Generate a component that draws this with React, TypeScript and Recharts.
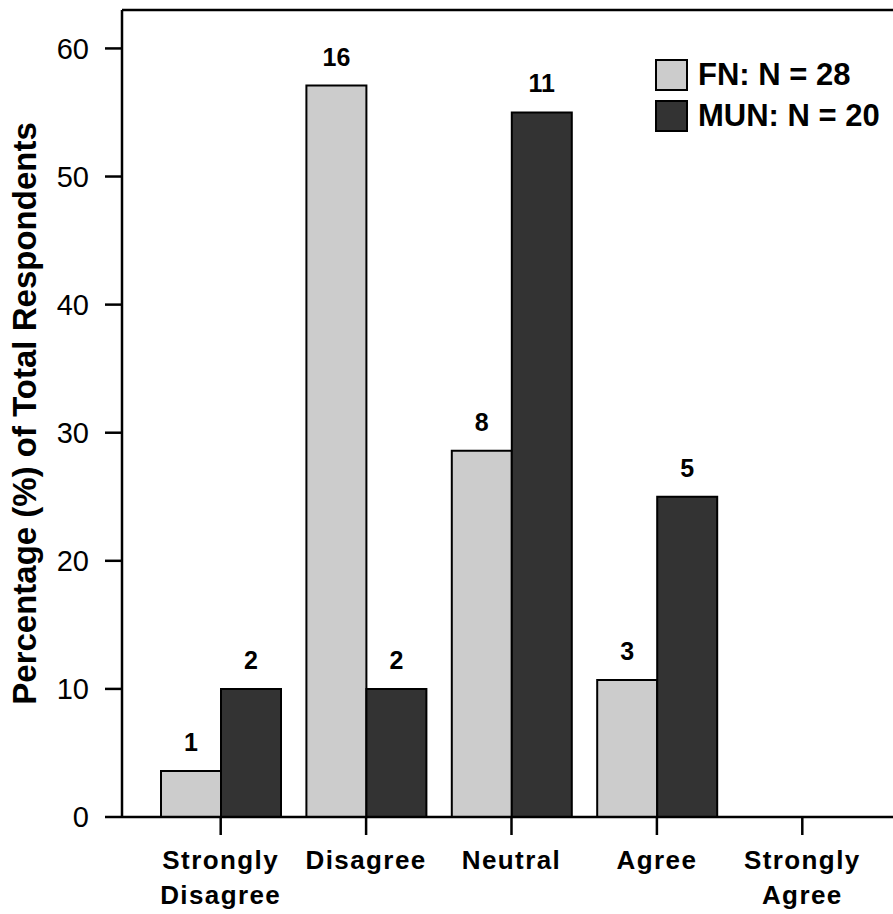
import React from "react";
import {
  Bar,
  BarChart,
  LabelList,
  Legend,
  ReferenceLine,
  XAxis,
  YAxis
} from "recharts";

const categories = ["Strongly Disagree", "Disagree", "Neutral", "Agree", "Strongly Agree"];
const fnPercent = [3.6, 57.1, 28.6, 10.7, 0];
const munPercent = [10, 10, 55, 25, 0];
const fnCounts = [1, 16, 8, 3, null];
const munCounts = [2, 2, 11, 5, null];
const yTicks = [0, 10, 20, 30, 40, 50, 60];

const FN_FILL = "#cccccc";
const MUN_FILL = "#333333";

const data = categories.map((name, i) => ({
  name,
  fn: fnPercent[i],
  mun: munPercent[i],
  fnCount: fnCounts[i],
  munCount: munCounts[i]
}));

function CategoryTick({ x, y, payload }: any) {
  const words = String(payload.value).split(" ");
  return (
    <text
      x={x}
      y={y}
      textAnchor="middle"
      fontSize={26}
      fontWeight="bold"
      letterSpacing={1.4}
      fill="#000"
    >
      {words.map((w, i) => (
        <tspan key={w} x={x} dy={i === 0 ? 34 : 35}>
          {w}
        </tspan>
      ))}
    </text>
  );
}

function LegendBox() {
  const rows = [
    { label: "FN: N = 28", fill: FN_FILL },
    { label: "MUN: N = 20", fill: MUN_FILL }
  ];
  return (
    <div>
      {rows.map((r) => (
        <div
          key={r.label}
          style={{ display: "flex", alignItems: "center", height: 41 }}
        >
          <div
            style={{
              width: 29,
              height: 28,
              background: r.fill,
              border: "2px solid #000",
              marginRight: 10
            }}
          />
          <span style={{ fontSize: 31, fontWeight: "bold", color: "#000" }}>
            {r.label}
          </span>
        </div>
      ))}
    </div>
  );
}

export default function App() {
  return (
    <div
      style={{
        position: "absolute",
        left: 0,
        top: 0,
        width: 893,
        height: 914,
        background: "#fff",
        fontFamily: "'Liberation Sans', Arial, sans-serif"
      }}
    >
      <BarChart
        width={893}
        height={914}
        data={data}
        margin={{ top: 10, right: 0, left: 0, bottom: 0 }}
        barGap={0}
      >
        <ReferenceLine y={63} stroke="#000" strokeWidth={2.5} />
        <XAxis
          dataKey="name"
          height={97}
          padding={{ left: 26, right: 18 }}
          interval={0}
          tickSize={18}
          tickMargin={0}
          axisLine={{ stroke: "#000", strokeWidth: 2.5 }}
          tickLine={{ stroke: "#000", strokeWidth: 2.5 }}
          tick={<CategoryTick />}
        />
        <YAxis
          width={122}
          domain={[0, 63]}
          ticks={yTicks}
          allowDataOverflow
          tickSize={17}
          tickMargin={16}
          axisLine={{ stroke: "#000", strokeWidth: 2.5 }}
          tickLine={{ stroke: "#000", strokeWidth: 2.5 }}
          tick={{ fontSize: 29, fill: "#000" }}
          label={{
            value: "Percentage (%) of Total Respondents",
            angle: -90,
            position: "insideLeft",
            offset: 24,
            style: {
              textAnchor: "middle",
              fontSize: 33,
              fontWeight: "bold",
              fill: "#000"
            }
          }}
        />
        <Legend
          layout="horizontal"
          verticalAlign="middle"
          align="center"
          content={<LegendBox />}
          wrapperStyle={{ top: 54, left: 655, width: 238 }}
        />
        <Bar
          dataKey="fn"
          name="FN: N = 28"
          fill={FN_FILL}
          stroke="#000"
          strokeWidth={2}
          barSize={60}
          isAnimationActive={false}
        >
          <LabelList
            dataKey="fnCount"
            position="top"
            offset={20}
            fontSize={25}
            fontWeight="bold"
            fill="#000"
          />
        </Bar>
        <Bar
          dataKey="mun"
          name="MUN: N = 20"
          fill={MUN_FILL}
          stroke="#000"
          strokeWidth={2}
          barSize={60}
          isAnimationActive={false}
        >
          <LabelList
            dataKey="munCount"
            position="top"
            offset={20}
            fontSize={25}
            fontWeight="bold"
            fill="#000"
          />
        </Bar>
      </BarChart>
    </div>
  );
}
